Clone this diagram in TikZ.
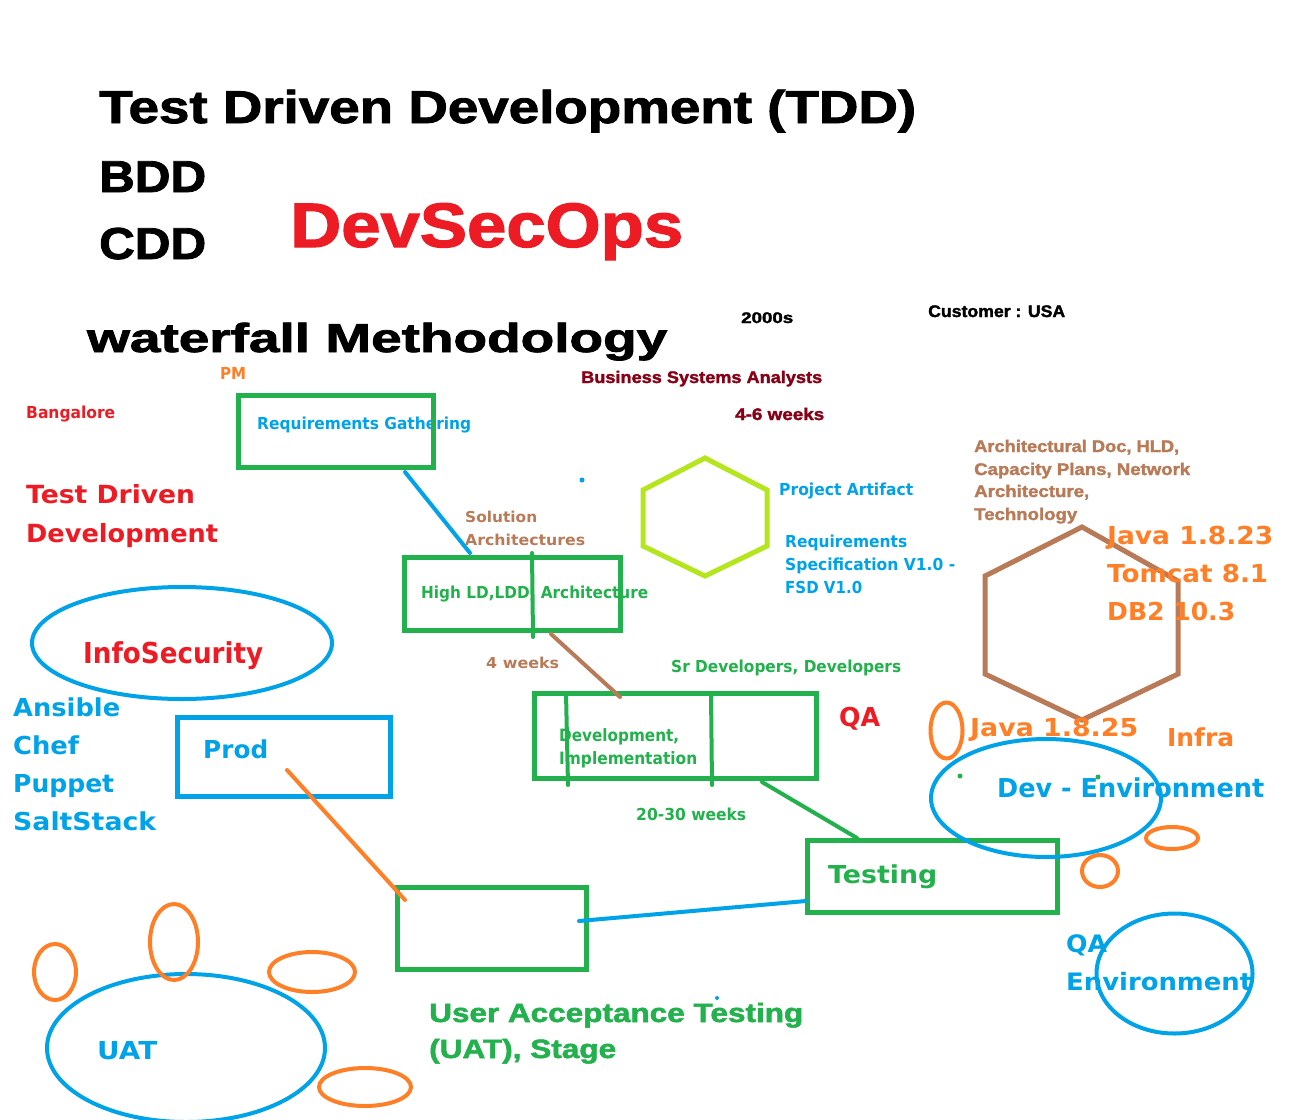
\documentclass[tikz,border=0pt]{standalone}
\usepackage{fontspec}
\usepackage{graphicx}
\setmainfont{Liberation Sans}
\newfontfamily\arfont{Liberation Sans}[BoldFeatures={FakeBold=1.8}]
\newfontfamily\vdfont{DejaVu Sans}
\usetikzlibrary{shapes.geometric}
\definecolor{pgreen}{HTML}{22B14C}
\definecolor{pblue}{HTML}{00A2E8}
\definecolor{pred}{HTML}{ED1C24}
\definecolor{porange}{HTML}{FF7F27}
\definecolor{pbrown}{HTML}{B97A57}
\definecolor{plime}{HTML}{B5E61D}
\definecolor{pdarkred}{HTML}{880015}
% text set at a given size and stretched to a given width
\newcommand\fitt[3]{\resizebox{#1pt}{\height}{\fontsize{#2pt}{#2pt}\selectfont #3}}
\begin{document}
\begin{tikzpicture}[x=1pt,y=-1pt,
  ar/.style={anchor=base west, inner sep=0pt, font=\arfont\bfseries},
  vd/.style={anchor=base west, inner sep=0pt, font=\vdfont\bfseries},
  box/.style={rectangle, draw=pgreen, line width=5pt, inner sep=0pt},
  ring/.style={ellipse, line width=4pt, inner sep=0pt},
  link/.style={line width=4pt, line cap=round},
  divider/.style={draw=pgreen, line width=4pt, line cap=round},
  dot/.style={circle, inner sep=0pt, minimum size=5pt}]
\fill[white] (0,0) rectangle (1301,1119);
\useasboundingbox (0,0) rectangle (1301,1119);

% brown hexagon (technology stack), under the version labels
\coordinate (bh1) at (1082,527);
\coordinate (bh2) at (1178,581);
\coordinate (bh3) at (1178,674);
\coordinate (bh4) at (1082,720);
\coordinate (bh5) at (985,674);
\coordinate (bh6) at (985,576);
\draw[pbrown, line width=5pt, line join=miter] (bh1) -- (bh2) -- (bh3) -- (bh4) -- (bh5) -- (bh6) -- cycle;

% headings
\node[ar, text=black] (title) at (99,123) {\fitt{817}{46}{Test Driven Development (TDD)}};
\node[ar, text=black] (bdd) at (99,192) {\fitt{107}{44.7}{BDD}};
\node[ar, text=black] (cdd) at (99,259) {\fitt{107}{44.7}{CDD}};
\node[ar, text=pred] (dso) at (290,247) {\fitt{393}{62.8}{DevSecOps}};
\node[ar, text=black] (wf) at (87,352) {\fitt{580}{40.5}{waterfall Methodology}};
\node[ar, text=black] (yr) at (741,323) {\fitt{52}{15.4}{2000s}};
\node[ar, text=black] (cust) at (928,317) {\fitt{137}{16.8}{Customer : USA}};
\node[ar, text=pdarkred] (bsa) at (581,383) {\fitt{241}{16.8}{Business Systems Analysts}};
\node[ar, text=pdarkred] (wk46) at (735,420) {\fitt{89}{16.8}{4-6 weeks}};
\node[ar, text=pbrown] (ad1) at (974,452) {\fitt{205}{16.8}{Architectural Doc, HLD,}};
\node[ar, text=pbrown] (ad2) at (974,475) {\fitt{216}{16.8}{Capacity Plans, Network}};
\node[ar, text=pbrown] (ad3) at (974,497) {\fitt{115}{16.8}{Architecture,}};
\node[ar, text=pbrown] (ad4) at (974,520) {\fitt{103}{16.8}{Technology}};
\node[ar, text=pgreen] (uat1) at (429,1022) {\fitt{374}{26.5}{User Acceptance Testing}};
\node[ar, text=pgreen] (uat2) at (429,1058) {\fitt{187}{26.5}{(UAT), Stage}};

% labels
\node[vd, text=porange] (pm) at (220,379) {\fitt{26}{16.5}{PM}};
\node[vd, text=pred] (blr) at (26,418) {\fitt{89}{16.5}{Bangalore}};
\node[vd, text=pblue] (rg) at (257,429) {\fitt{214}{16.5}{Requirements Gathering}};
\node[vd, text=pred] (tdd1) at (26,503) {\fitt{169}{25}{Test Driven}};
\node[vd, text=pred] (tdd2) at (26,542) {\fitt{192}{25}{Development}};
\node[vd, text=pbrown] (sol1) at (465,522) {\fitt{72}{15}{Solution}};
\node[vd, text=pbrown] (sol2) at (465,545) {\fitt{120}{15}{Architectures}};
\node[vd, text=pblue] (pa) at (779,495) {\fitt{134}{16.5}{Project Artifact}};
\node[vd, text=pblue] (rs1) at (785,547) {\fitt{122}{16.5}{Requirements}};
\node[vd, text=pblue] (rs2) at (785,570) {\fitt{170}{16.5}{Specification V1.0 -}};
\node[vd, text=pblue] (rs3) at (785,593) {\fitt{77}{16.5}{FSD V1.0}};
\node[vd, text=pgreen] (hl) at (421,598) {\fitt{227}{16.5}{High LD,LDD, Architecture}};
\node[vd, text=pred] (isec) at (83,663) {\fitt{180}{28.8}{InfoSecurity}};
\node[vd, text=pbrown] (wk4) at (486,668) {\fitt{73}{15}{4 weeks}};
\node[vd, text=pgreen] (srd) at (671,672) {\fitt{230}{16.5}{Sr Developers, Developers}};
\node[vd, text=pred] (qa) at (839,726) {\fitt{41}{26}{QA}};
\node[vd, text=pblue] (ans) at (13,716) {\fitt{107}{24.7}{Ansible}};
\node[vd, text=pblue] (chef) at (13,754) {\fitt{66}{24.7}{Chef}};
\node[vd, text=pblue] (pup) at (13,792) {\fitt{101}{24.7}{Puppet}};
\node[vd, text=pblue] (salt) at (13,830) {\fitt{143}{24.7}{SaltStack}};
\node[vd, text=pblue] (prodt) at (203,758) {\fitt{65}{24.7}{Prod}};
\node[vd, text=pgreen] (di1) at (559,741) {\fitt{120}{17}{Development,}};
\node[vd, text=pgreen] (di2) at (559,764) {\fitt{138}{17}{Implementation}};
\node[vd, text=pgreen] (wk2030) at (636,820) {\fitt{110}{16.5}{20-30 weeks}};
\node[vd, text=porange] (j23) at (1107,544) {\fitt{166}{24.7}{Java 1.8.23}};
\node[vd, text=porange] (tc) at (1107,582) {\fitt{161}{24.7}{Tomcat 8.1}};
\node[vd, text=porange] (db2) at (1107,620) {\fitt{128}{24.7}{DB2 10.3}};
\node[vd, text=porange] (j25) at (970,736) {\fitt{168}{24.7}{Java 1.8.25}};
\node[vd, text=porange] (infra) at (1167,746) {\fitt{67}{24.7}{Infra}};
\node[vd, text=pblue] (deve) at (997,797) {\fitt{267}{26}{Dev - Environment}};
\node[vd, text=pgreen] (testt) at (828,883) {\fitt{109}{24.7}{Testing}};
\node[vd, text=pblue] (qae1) at (1066,952) {\fitt{41}{24}{QA}};
\node[vd, text=pblue] (qae2) at (1066,990) {\fitt{186}{24}{Environment}};
\node[vd, text=pblue] (uatt) at (97,1059) {\fitt{60}{24.7}{UAT}};

% lime hexagon (project artifact)
\coordinate (lh1) at (705,458);
\coordinate (lh2) at (767,490);
\coordinate (lh3) at (767,546);
\coordinate (lh4) at (705,576);
\coordinate (lh5) at (643,546);
\coordinate (lh6) at (643,490);
\draw[plime, line width=5pt, line join=miter] (lh1) -- (lh2) -- (lh3) -- (lh4) -- (lh5) -- (lh6) -- cycle;

% process boxes
\node[box, minimum width=195pt, minimum height=72pt] (req) at (336,431.5) {};
\node[box, minimum width=216pt, minimum height=73pt] (hld) at (512.5,594) {};
\node[box, minimum width=282pt, minimum height=85pt] (dev) at (675.5,736) {};
\node[box, minimum width=250pt, minimum height=72pt] (test) at (932.5,876.5) {};
\node[box, minimum width=189pt, minimum height=82pt] (uat) at (492,928.5) {};
\node[box, draw=pblue, minimum width=213pt, minimum height=79pt] (prod) at (284,757) {};

% dividers inside the boxes
\draw[divider] (532,553) -- (533,637);
\draw[divider] (566,693) -- (568,785);
\draw[divider] (711,693) -- (712,785);

% environment rings
\node[ring, draw=pblue, minimum width=300pt, minimum height=112pt] (infosec) at (182,643) {};
\node[ring, draw=pblue, minimum width=230pt, minimum height=118pt] (devenv) at (1046,798) {};
\node[ring, draw=pblue, minimum width=156pt, minimum height=120pt] (qaenv) at (1174.5,973.5) {};
\node[ring, draw=pblue, minimum width=278pt, minimum height=148pt] (uatenv) at (186,1048) {};
\node[ring, draw=porange, minimum width=32pt, minimum height=56pt] (o1) at (946.5,730.5) {};
\node[ring, draw=porange, minimum width=52pt, minimum height=22pt] (o2) at (1172,838) {};
\node[ring, draw=porange, minimum width=36pt, minimum height=32pt] (o3) at (1100,871) {};
\node[ring, draw=porange, minimum width=42pt, minimum height=56pt] (o4) at (55,972) {};
\node[ring, draw=porange, minimum width=48pt, minimum height=76pt] (o5) at (174,942) {};
\node[ring, draw=porange, minimum width=86pt, minimum height=40pt] (o6) at (312,972) {};
\node[ring, draw=porange, minimum width=92pt, minimum height=38pt] (o7) at (365,1087) {};

% connector end points
\coordinate (reqout) at (405,472);
\coordinate (hldin) at (470,553);
\coordinate (hldout) at (551,634);
\coordinate (devin) at (620,697);
\coordinate (devout) at (762,782);
\coordinate (testin) at (857,838);
\coordinate (uatout) at (579,921);
\coordinate (testleft) at (806,901);
\coordinate (prodout) at (287,770);
\coordinate (uatin) at (405,900);

% connectors
\draw[link, pblue] (reqout) -- (hldin);
\draw[link, pbrown] (hldout) -- (devin);
\draw[link, pgreen] (devout) -- (testin);
\draw[link, pblue] (uatout) -- (testleft);
\draw[link, porange] (prodout) -- (uatin);

% stray dots
\node[dot, fill=pblue] (d1) at (582,480) {};
\node[dot, fill=pblue, minimum size=4pt] (d2) at (717,998) {};
\node[dot, fill=pgreen] (d3) at (960,776) {};
\node[dot, fill=pgreen] (d4) at (1098,777) {};
\end{tikzpicture}
\end{document}
